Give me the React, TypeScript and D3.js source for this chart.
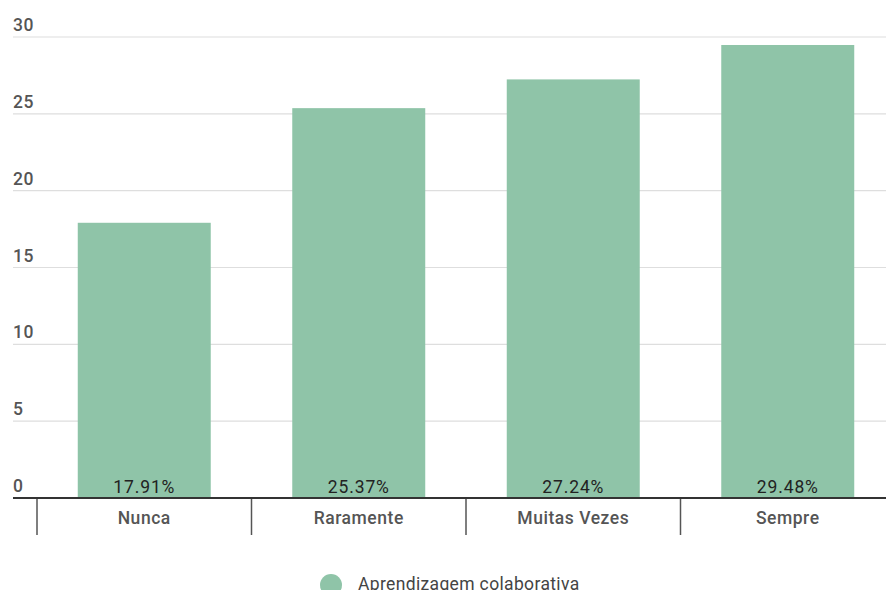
import React from "react";
import * as d3 from "d3";

const categories = ["Nunca", "Raramente", "Muitas Vezes", "Sempre"];
const values = [17.91, 25.37, 27.24, 29.48];
const valueLabels = ["17.91%", "25.37%", "27.24%", "29.48%"];
const yTicks = [0, 5, 10, 15, 20, 25, 30];
const seriesName = "Aprendizagem colaborativa";

const W = 886;
const H = 590;
const font = "Roboto, 'Noto Sans', sans-serif";
const barColor = "#8fc4a8";

export default function App() {
  const y = d3.scaleLinear().domain([0, 30]).range([498, 37]);
  const x = d3
    .scaleBand<string>()
    .domain(categories)
    .range([37, 37 + 4 * 214.5])
    .paddingInner(0.38)
    .paddingOuter(0.19);
  const step = x.step();
  const left = 13;
  const ls = 0.9;

  return (
    <svg
      width={W}
      height={H}
      style={{ position: "absolute", left: 0, top: 0, background: "#fff" }}
      fontFamily={font}
    >
      {yTicks.map((t) => (
        <g key={t}>
          {t !== 0 && (
            <line x1={left} x2={W} y1={y(t)} y2={y(t)} stroke="#dedede" strokeWidth={1.2} />
          )}
          <text x={left} y={y(t) - 6} fontSize={17.5} fontWeight={500} letterSpacing={0.5} fill="#555">
            {t}
          </text>
        </g>
      ))}
      {categories.map((c, i) => (
        <g key={c}>
          <rect
            x={x(c)}
            y={y(values[i])}
            width={x.bandwidth()}
            height={y(0) - y(values[i])}
            fill={barColor}
          />
          <text
            x={(x(c) as number) + x.bandwidth() / 2}
            y={y(0) - 5}
            textAnchor="middle"
            fontSize={17.5}
            letterSpacing={ls}
            fill="#222"
          >
            {valueLabels[i]}
          </text>
          <line
            x1={37 + i * step}
            x2={37 + i * step}
            y1={y(0)}
            y2={535}
            stroke="#555"
            strokeWidth={1.5}
          />
          <text
            x={(x(c) as number) + x.bandwidth() / 2}
            y={524}
            textAnchor="middle"
            fontSize={17.5}
            fontWeight={500}
            letterSpacing={ls * 0.6}
            fill="#555"
          >
            {c}
          </text>
        </g>
      ))}
      <line x1={left} x2={W} y1={y(0)} y2={y(0)} stroke="#333" strokeWidth={2} />
      <circle cx={331} cy={585} r={11} fill={barColor} />
      <text x={358} y={590} fontSize={17.5} letterSpacing={0.35} fill="#444">
        {seriesName}
      </text>
    </svg>
  );
}
